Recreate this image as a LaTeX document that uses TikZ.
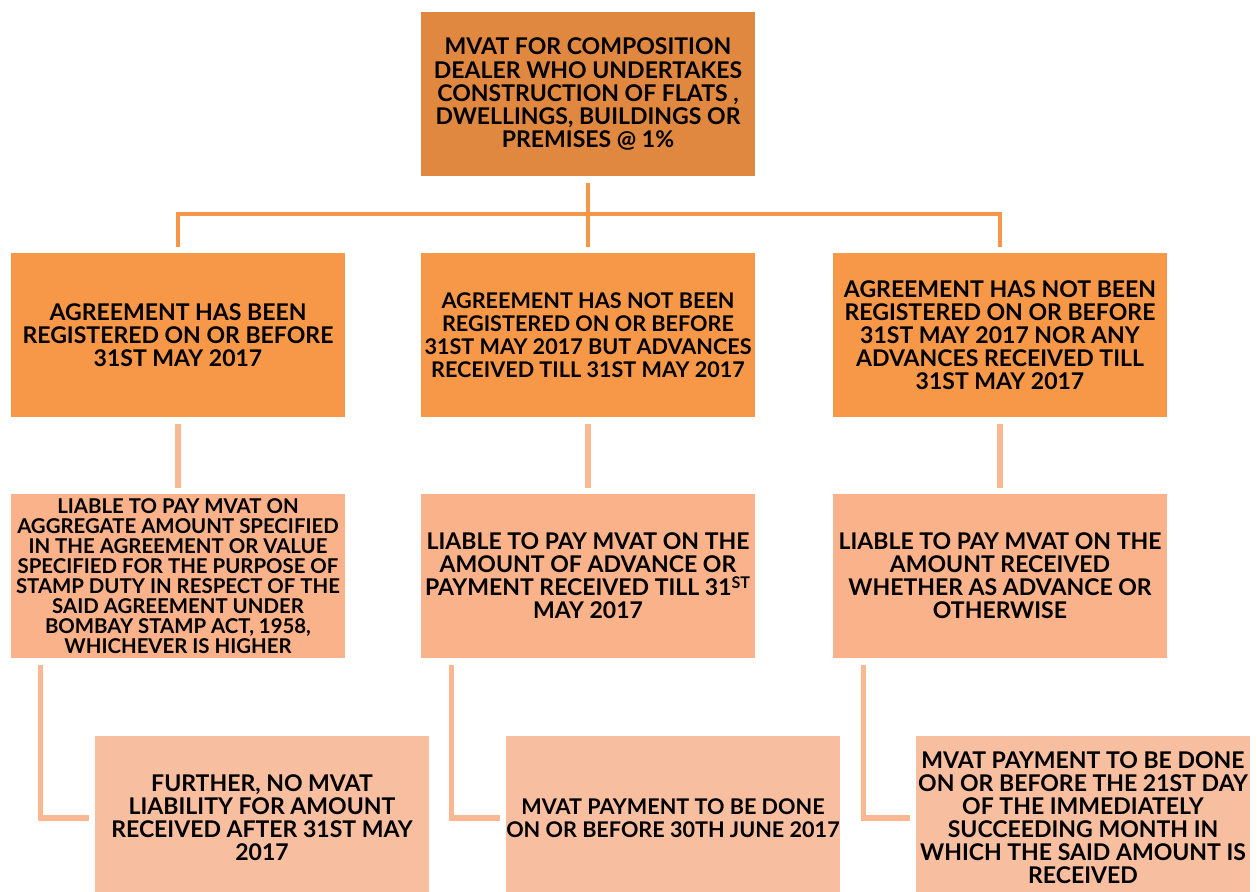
\documentclass[tikz,border=0pt]{standalone}
\usepackage{fontspec}
\setmainfont{Lato}
\usepackage{tikz}
\usetikzlibrary{calc}

\definecolor{topfill}{RGB}{224,135,64}
\definecolor{midfill}{RGB}{247,152,72}
\definecolor{lowfill}{RGB}{249,178,138}
\definecolor{endfill}{RGB}{248,190,160}
\definecolor{trunkcol}{RGB}{247,150,70}
\definecolor{twigcol}{RGB}{249,184,146}

\tikzset{
  card/.style={minimum width=6.68cm, minimum height=3.28cm, inner sep=0pt, align=center,
    text=black, font=\bfseries\fontsize{13.1}{13.1}\selectfont},
  tight/.style={font=\bfseries\fontsize{12.3}{13.1}\selectfont},
  top card/.style={card, fill=topfill},
  mid card/.style={card, fill=midfill},
  low card/.style={card, fill=lowfill},
  end card/.style={card, fill=endfill},
  trunk/.style={draw=trunkcol, line width=2.8pt},
  twig/.style={draw=twigcol, line width=3.2pt}
}

\begin{document}
\begin{tikzpicture}[x=0.02cm, y=-0.02cm]
  \useasboundingbox (0,0) rectangle (1257,892);
  \clip (0,0) rectangle (1257,892);

  % top of the tree
  \node [top card] at (588,94) (mvat) {MVAT FOR COMPOSITION\\DEALER WHO UNDERTAKES\\CONSTRUCTION OF FLATS ,\\DWELLINGS, BUILDINGS OR\\PREMISES @ 1\%};

  % the three cases
  \node [mid card] at (178,335) (reg) {AGREEMENT HAS BEEN\\REGISTERED ON OR BEFORE\\31ST MAY 2017};
  \node [mid card, tight] at (588,335) (adv) {AGREEMENT HAS NOT BEEN\\REGISTERED ON OR BEFORE\\31ST MAY 2017 BUT ADVANCES\\RECEIVED TILL 31ST MAY 2017};
  \node [mid card] at (1000,335) (none) {AGREEMENT HAS NOT BEEN\\REGISTERED ON OR BEFORE\\31ST MAY 2017 NOR ANY\\ADVANCES RECEIVED TILL\\31ST MAY 2017};

  % liability
  \node [low card, font=\bfseries\fontsize{11.6}{11.4}\selectfont] at (178,576) (aggr) {LIABLE TO PAY MVAT ON\\AGGREGATE AMOUNT SPECIFIED\\IN THE AGREEMENT OR VALUE\\SPECIFIED FOR THE PURPOSE OF\\STAMP DUTY IN RESPECT OF THE\\SAID AGREEMENT UNDER\\BOMBAY STAMP ACT, 1958,\\WHICHEVER IS HIGHER};
  \node [low card] at (588,576) (advpay) {LIABLE TO PAY MVAT ON THE\\AMOUNT OF ADVANCE OR\\PAYMENT RECEIVED TILL 31\textsuperscript{ST}\\MAY 2017};
  \node [low card] at (1000,576) (recv) {LIABLE TO PAY MVAT ON THE\\AMOUNT RECEIVED\\WHETHER AS ADVANCE OR\\OTHERWISE};

  % payment
  \node [end card] at (262,818) (further) {FURTHER, NO MVAT\\LIABILITY FOR AMOUNT\\RECEIVED AFTER 31ST MAY\\2017};
  \node [end card, tight] at (673,818) (june) {MVAT PAYMENT TO BE DONE\\ON OR BEFORE 30TH JUNE 2017};
  \node [end card] at (1083,818) (month) {MVAT PAYMENT TO BE DONE\\ON OR BEFORE THE 21ST DAY\\OF THE IMMEDIATELY\\SUCCEEDING MONTH IN\\WHICH THE SAID AMOUNT IS\\RECEIVED};

  % connections
  \coordinate (fork) at (589,214);
  \draw [trunk] ([yshift=-0.14cm]mvat.south) -- ([yshift=0.12cm]adv.north);
  \draw [trunk] ([yshift=0.12cm]reg.north) |- (fork) -| ([yshift=0.12cm]none.north);

  \draw [twig] ([yshift=-0.14cm]reg.south) -- ([yshift=0.12cm]aggr.north);
  \draw [twig] ([yshift=-0.14cm]adv.south) -- ([yshift=0.12cm]advpay.north);
  \draw [twig] ([yshift=-0.14cm]none.south) -- ([yshift=0.12cm]recv.north);

  \draw [twig] ([xshift=0.6cm, yshift=-0.14cm]aggr.south west) |- ([xshift=-0.12cm]further.west);
  \draw [twig] ([xshift=0.62cm, yshift=-0.14cm]advpay.south west) |- ([xshift=-0.12cm]june.west);
  \draw [twig] ([xshift=0.62cm, yshift=-0.14cm]recv.south west) |- ([xshift=-0.12cm]month.west);
\end{tikzpicture}
\end{document}
